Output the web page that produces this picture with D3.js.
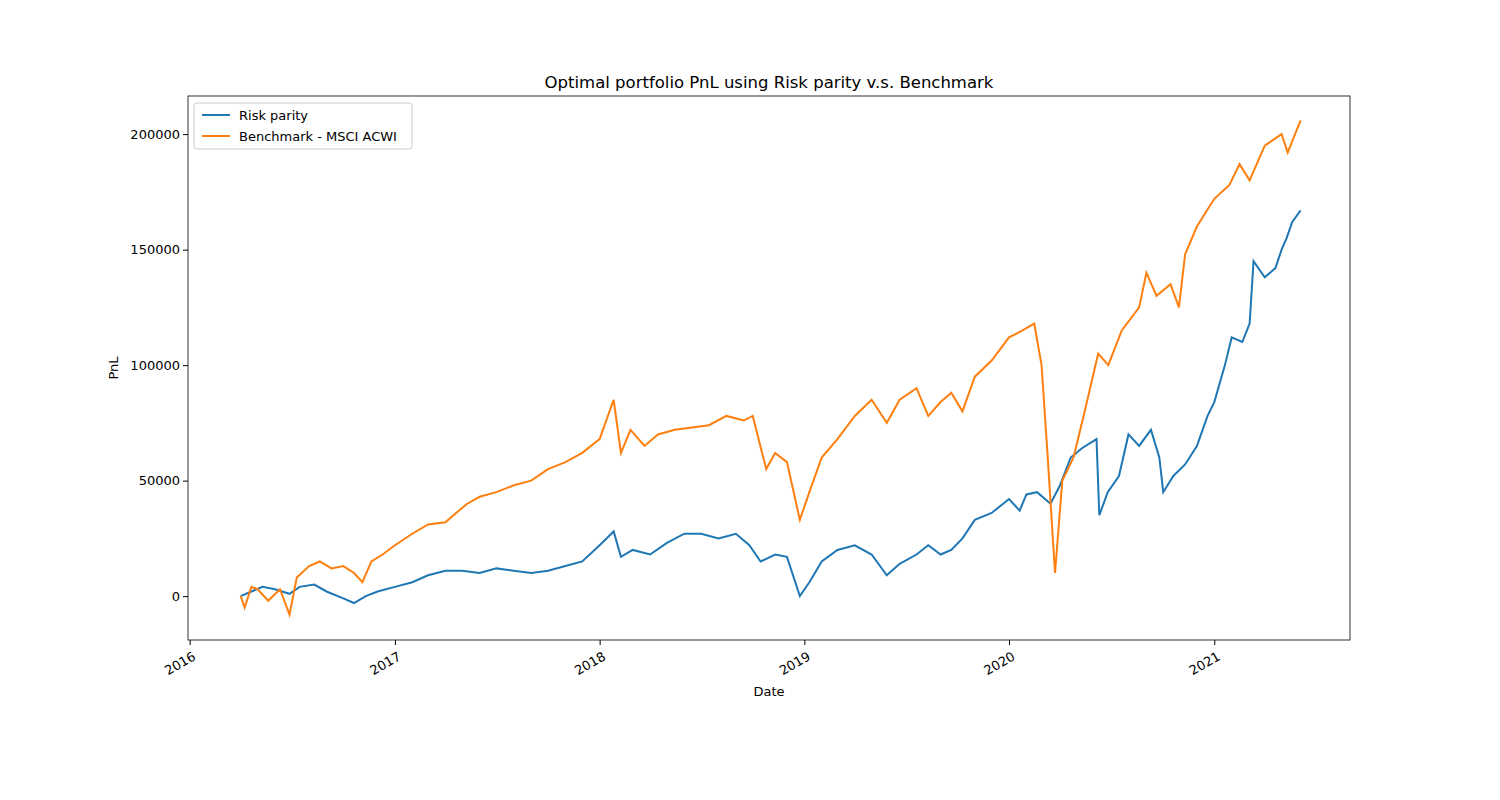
<!DOCTYPE html>
<html>
<head>
<meta charset="utf-8">
<script src="https://cdn.jsdelivr.net/npm/d3@7"></script>
<style>
  body { margin: 0; background: #fff; }
  text { font-family: "DejaVu Sans", sans-serif; }
</style>
</head>
<body>
<div id="chart"></div>
<script>
// dates and PnL values
var benchDates = ["2016-04-01","2016-04-08","2016-04-20","2016-05-01","2016-05-20","2016-06-10","2016-06-27","2016-07-10","2016-08-01","2016-08-20","2016-09-10","2016-10-01","2016-10-20","2016-11-04","2016-11-20","2016-12-10","2017-01-01","2017-02-01","2017-03-01","2017-04-01","2017-04-20","2017-05-10","2017-06-01","2017-07-01","2017-08-01","2017-09-01","2017-10-01","2017-11-01","2017-12-01","2018-01-01","2018-01-26","2018-02-08","2018-02-25","2018-03-22","2018-04-15","2018-05-15","2018-06-15","2018-07-15","2018-08-15","2018-09-15","2018-10-01","2018-10-25","2018-11-10","2018-12-01","2018-12-24","2019-01-10","2019-02-01","2019-03-01","2019-04-01","2019-05-01","2019-05-28","2019-06-20","2019-07-20","2019-08-10","2019-09-01","2019-09-20","2019-10-10","2019-11-01","2019-12-01","2020-01-01","2020-01-25","2020-02-15","2020-02-28","2020-03-10","2020-03-23","2020-04-05","2020-04-25","2020-05-15","2020-06-08","2020-06-26","2020-07-20","2020-08-20","2020-09-02","2020-09-20","2020-10-15","2020-10-30","2020-11-10","2020-12-01","2021-01-01","2021-01-28","2021-02-15","2021-03-05","2021-04-01","2021-05-01","2021-05-12","2021-05-25","2021-06-04"];
var benchPnL = [0,-5000,4000,3000,-2000,3000,-8000,8000,13000,15000,12000,13000,10000,6000,15000,18000,22000,27000,31000,32000,36000,40000,43000,45000,48000,50000,55000,58000,62000,68000,85000,62000,72000,65000,70000,72000,73000,74000,78000,76000,78000,55000,62000,58000,33000,45000,60000,68000,78000,85000,75000,85000,90000,78000,84000,88000,80000,95000,102000,112000,115000,118000,100000,60000,10000,50000,60000,80000,105000,100000,115000,125000,140000,130000,135000,125000,148000,160000,172000,178000,187000,180000,195000,200000,192000,200000,206000];

var riskDates = ["2016-04-01","2016-04-20","2016-05-10","2016-06-01","2016-06-27","2016-07-15","2016-08-10","2016-09-01","2016-10-01","2016-10-20","2016-11-10","2016-12-01","2017-01-01","2017-02-01","2017-03-01","2017-04-01","2017-05-01","2017-06-01","2017-07-01","2017-08-01","2017-09-01","2017-10-01","2017-11-01","2017-12-01","2018-01-01","2018-01-26","2018-02-08","2018-03-01","2018-04-01","2018-05-01","2018-06-01","2018-07-01","2018-08-01","2018-09-01","2018-09-25","2018-10-15","2018-11-10","2018-12-01","2018-12-24","2019-01-10","2019-02-01","2019-03-01","2019-04-01","2019-05-01","2019-05-28","2019-06-20","2019-07-20","2019-08-10","2019-09-01","2019-09-20","2019-10-10","2019-11-01","2019-12-01","2020-01-01","2020-01-20","2020-02-01","2020-02-20","2020-03-15","2020-04-01","2020-04-20","2020-05-10","2020-06-05","2020-06-10","2020-06-25","2020-07-15","2020-08-01","2020-08-20","2020-09-10","2020-09-25","2020-10-02","2020-10-20","2020-11-10","2020-12-01","2020-12-20","2021-01-01","2021-01-20","2021-02-01","2021-02-20","2021-03-05","2021-03-12","2021-04-01","2021-04-20","2021-05-01","2021-05-10","2021-05-20","2021-06-04"];
var riskPnL = [0,2000,4000,3000,1000,4000,5000,2000,-1000,-3000,0,2000,4000,6000,9000,11000,11000,10000,12000,11000,10000,11000,13000,15000,22000,28000,17000,20000,18000,23000,27000,27000,25000,27000,22000,15000,18000,17000,0,6000,15000,20000,22000,18000,9000,14000,18000,22000,18000,20000,25000,33000,36000,42000,37000,44000,45000,40000,48000,60000,64000,68000,35000,45000,52000,70000,65000,72000,60000,45000,52000,57000,65000,78000,84000,100000,112000,110000,118000,145000,138000,142000,150000,155000,162000,167000];

var margin = {top: 96, right: 150, bottom: 160, left: 188};
var width = 1500 - margin.left - margin.right;
var height = 800 - margin.top - margin.bottom;
var parse = d3.timeParse("%Y-%m-%d");

var svg = d3.select("#chart").append("svg")
    .attr("width", 1500).attr("height", 800)
  .append("g")
    .attr("transform", "translate(" + margin.left + "," + margin.top + ")");

var x = d3.scaleTime()
  .domain([new Date(2015, 11, 29), new Date(2021, 7, 31)])
  .range([0, width]);
var y = d3.scaleLinear()
  .domain([-19000, 216500])
  .range([height, 0]);

var xAxis = svg.append("g")
  .attr("transform", "translate(0," + height + ")")
  .call(d3.axisBottom(x).ticks(d3.timeYear.every(1)).tickFormat(d3.timeFormat("%Y")).tickSizeOuter(0).tickSize(5));
xAxis.selectAll("text")
  .attr("font-size", "13px")
  .attr("text-anchor", "end")
  .attr("dx", "-0.3em").attr("dy", "0.9em")
  .attr("transform", "rotate(-30)");

var yAxis = svg.append("g")
  .call(d3.axisLeft(y).tickValues([0, 50000, 100000, 150000, 200000]).tickFormat(d3.format("d")).tickSize(5).tickSizeOuter(0));
yAxis.selectAll("text").attr("font-size", "13px");
svg.selectAll(".domain").remove();

svg.append("rect")
  .attr("width", width).attr("height", height)
  .attr("fill", "none").attr("stroke", "#000").attr("stroke-width", 0.8);

var line = d3.line().x(d => x(d[0])).y(d => y(d[1]));
var riskData = riskDates.map((d, i) => [parse(d), riskPnL[i]]);
var benchData = benchDates.map((d, i) => [parse(d), benchPnL[i]]);

svg.append("path").datum(riskData)
  .attr("d", line).attr("fill", "none").attr("stroke", "#1f77b4").attr("stroke-width", 2);
svg.append("path").datum(benchData)
  .attr("d", line).attr("fill", "none").attr("stroke", "#ff7f0e").attr("stroke-width", 2);

// title and axis labels
svg.append("text")
  .attr("x", width / 2).attr("y", -8)
  .attr("text-anchor", "middle").attr("font-size", "16.5px")
  .text("Optimal portfolio PnL using Risk parity v.s. Benchmark");
svg.append("text")
  .attr("x", width / 2).attr("y", height + 56)
  .attr("text-anchor", "middle").attr("font-size", "13px")
  .text("Date");
svg.append("text")
  .attr("transform", "translate(-70," + (height / 2) + ") rotate(-90)")
  .attr("text-anchor", "middle").attr("font-size", "13px")
  .text("PnL");

// legend
var legend = svg.append("g").attr("transform", "translate(6,7)");
legend.append("rect")
  .attr("width", 218).attr("height", 46).attr("rx", 3)
  .attr("fill", "#fff").attr("fill-opacity", 0.8).attr("stroke", "#ccc");
var names = ["Risk parity", "Benchmark - MSCI ACWI"];
var colors = ["#1f77b4", "#ff7f0e"];
names.forEach(function (n, i) {
  legend.append("line")
    .attr("x1", 8).attr("x2", 36).attr("y1", 12 + i * 21).attr("y2", 12 + i * 21)
    .attr("stroke", colors[i]).attr("stroke-width", 2);
  legend.append("text")
    .attr("x", 45).attr("y", 17 + i * 21).attr("font-size", "13px")
    .text(n);
});
</script>
</body>
</html>
